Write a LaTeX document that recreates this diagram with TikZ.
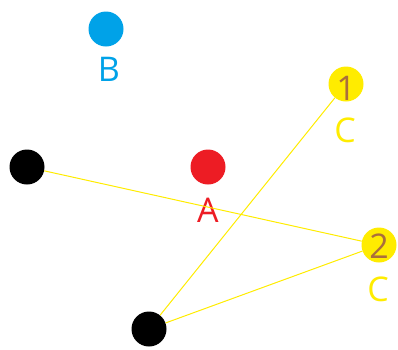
\documentclass[tikz,border=0pt]{standalone}
\usepackage{fontspec}
\setmainfont{Open Sans}
\definecolor{pblue}{RGB}{0,162,232}
\definecolor{pred}{RGB}{237,28,36}
\definecolor{pyellow}{RGB}{255,236,0}
\definecolor{pbrown}{RGB}{170,110,60}
\begin{document}
\begin{tikzpicture}[x=1pt,y=-1pt,
  dot/.style={circle,fill=#1,inner sep=0pt,minimum size=35pt},
  lbl/.style={anchor=base,inner sep=0pt,text=#1,font=\fontsize{34}{34}\selectfont},
  link/.style={draw=pyellow,line width=1pt}]
\useasboundingbox (0,0) rectangle (398,349);
\node[dot=pblue] (b) at (106,29) {};
\node[lbl=pblue] (bl) at (109,81) {B};
\node[dot=pred] (a) at (208,167) {};
\node[lbl=pred] (al) at (208,222) {A};
\node[dot=black] (k1) at (27,167) {};
\node[dot=black] (k2) at (149,329) {};
\node[dot=pyellow] (c1) at (346,84) {};
\node[dot=pyellow] (c2) at (379,245) {};
\node[lbl=pbrown] (n1) at (346,100) {1};
\node[lbl=pbrown] (n2) at (379,258) {2};
\node[lbl=pyellow] (c1l) at (345,142) {C};
\node[lbl=pyellow] (c2l) at (378,301) {C};
\draw[link] (k1) -- (c2);
\draw[link] (k2) -- (c1);
\draw[link] (k2) -- (c2);
\end{tikzpicture}
\end{document}
